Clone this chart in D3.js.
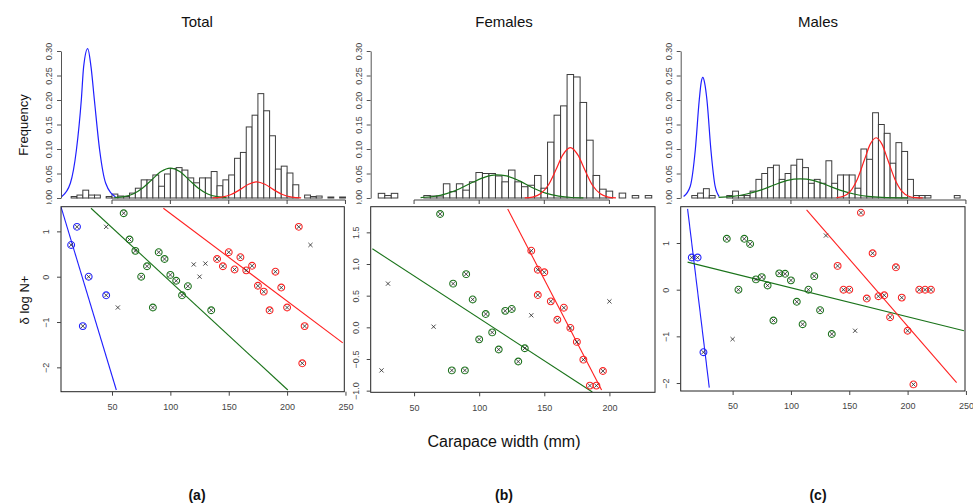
<!DOCTYPE html>
<html>
<head>
<meta charset="utf-8">
<script src="https://cdn.jsdelivr.net/npm/d3@7"></script>
<style>
  body { margin: 0; background: #fff; }
  svg { display: block; font-family: "Liberation Sans", Arial, sans-serif; }
  .tl { font-family: "Liberation Sans Narrow", "Liberation Sans", Arial, sans-serif; font-size: 9px; fill: #444; }
</style>
</head>
<body>
<svg id="chart" width="973" height="504"></svg>
<script>
const binWidth = 5;

const totalBinStart = 15;
const totalFreq = [0.003, 0.006, 0.016, 0.006, 0.006, 0, 0.003, 0.008, 0.004, 0.003,
  0.01, 0.02, 0.037, 0.037, 0.047, 0.024, 0.049, 0.06, 0.062, 0.057,
  0.041, 0.031, 0.041, 0.041, 0.054, 0.025, 0.037, 0.047, 0.081, 0.093,
  0.145, 0.169, 0.213, 0.178, 0.127, 0.059, 0.065, 0.051, 0.027, 0,
  0.006, 0.003, 0.004, 0, 0.002, 0, 0.002];

const femaleBinStart = 22.5;
const femaleFreq = [0.0095, 0.005, 0.0095, 0, 0, 0, 0, 0.005, 0.004, 0.004,
  0.029, 0.013, 0.029, 0.016, 0.033, 0.052, 0.05, 0.05, 0.045, 0.033,
  0.057, 0.033, 0.023, 0.026, 0.046, 0.02, 0.114, 0.169, 0.188, 0.252,
  0.247, 0.195, 0.118, 0.046, 0.018, 0.014, 0, 0.01, 0, 0.005, 0, 0.005];

const maleBinStart = 15;
const maleFreq = [0.005, 0.01, 0.019, 0.005, 0, 0, 0.005, 0.014, 0.005, 0.005,
  0.014, 0.038, 0.05, 0.062, 0.067, 0.038, 0.05, 0.067, 0.079, 0.062,
  0.03, 0.038, 0.03, 0.076, 0.03, 0.047, 0.047, 0.047, 0.02, 0.1,
  0.079, 0.174, 0.15, 0.132, 0.071, 0.113, 0.095, 0.038, 0.005, 0.005,
  0.005, 0, 0, 0, 0, 0.005];

// mixture component curves [width, freq]
const totalBlueCurve = [[7, 0.003], [14.3, 0.03], [19.5, 0.098], [23.7, 0.2], [25.7, 0.268], [29.2, 0.305],
  [32, 0.268], [34.9, 0.2], [39.4, 0.098], [44.6, 0.03], [53, 0.002]];
const totalGreenCurve = [[52, 0.0007], [60, 0.0027], [68, 0.0082], [76, 0.02], [84, 0.037], [92, 0.054], [100, 0.061],
  [108, 0.054], [116, 0.037], [124, 0.02], [132, 0.0082], [140, 0.0027], [148, 0.0007]];
const totalRedCurve = [[136, 0.0003], [144, 0.0019], [152, 0.007], [160, 0.0176], [167, 0.028], [174, 0.033],
  [181, 0.028], [188, 0.0176], [196, 0.007], [204, 0.0019], [212, 0.0003]];

const femaleGreenCurve = [[55, 0.0008], [65, 0.003], [75, 0.009], [85, 0.019], [95, 0.032], [105, 0.043], [113, 0.047],
  [121, 0.045], [131, 0.035], [141, 0.021], [151, 0.01], [161, 0.004], [171, 0.001], [180, 0.0002]];
const femaleRedCurve = [[135, 0.0001], [141, 0.0019], [147, 0.0085], [153, 0.026], [159, 0.058], [164, 0.087], [170, 0.103],
  [176, 0.087], [181, 0.058], [187, 0.026], [193, 0.0085], [199, 0.0019], [205, 0.0003]];

const maleBlueCurve = [[8, 0.003], [13.7, 0.024], [18, 0.098], [21.4, 0.2], [23, 0.235], [24.5, 0.246],
  [26, 0.235], [28, 0.2], [31.4, 0.098], [35, 0.024], [38.5, 0.003]];
const maleGreenCurve = [[38, 0.0011], [50, 0.0032], [62, 0.0082], [74, 0.016], [86, 0.027], [97, 0.036], [108, 0.039],
  [119, 0.036], [130, 0.027], [142, 0.016], [154, 0.0082], [166, 0.0032], [178, 0.0011], [200, 0.0001]];
const maleRedCurve = [[139, 0.0006], [145, 0.0035], [151, 0.014], [157, 0.039], [163, 0.078], [168, 0.11], [173, 0.123],
  [178, 0.11], [183, 0.078], [189, 0.039], [195, 0.014], [201, 0.0035], [207, 0.0006], [213, 0.0001]];

// scatter points [width, delta log N+]
const totalBluePts = [[15, 0.7], [20, 1.1], [30, 0], [25, -1.09], [45, -0.41]];
const totalGreenPts = [[60, 1.4], [65, 0.82], [70, 0.57], [80, 0.23], [75, 0], [90, 0.54], [95, 0.39], [100, 0.04],
  [105, -0.09], [115, -0.21], [110, -0.41], [85, -0.68], [135, -0.74]];
const totalRedPts = [[140, 0.39], [145, 0.23], [150, 0.54], [155, 0.16], [160, 0.43], [165, 0.14], [170, 0.24],
  [175, -0.2], [180, -0.33], [185, -0.74], [190, 0.11], [195, -0.24], [200, -0.68], [210, 1.1], [215, -1.09], [213, -1.91]];
const totalOtherPts = [[45, 1.1], [55, -0.68], [120, 0.27], [130, 0.29], [125, 0], [220, 0.7]];

const femaleGreenPts = [[70, 1.79], [80, 0.69], [90, 0.84], [95, 0.44], [105, 0.21], [120, 0.26], [125, 0.29],
  [110, -0.08], [100, -0.19], [115, -0.35], [135, -0.33], [130, -0.54], [79, -0.68], [89, -0.68]];
const femaleRedPts = [[140, 1.21], [145, 0.91], [150, 0.87], [145, 0.51], [155, 0.41], [165, 0.31], [160, 0.12],
  [170, -0.01], [175, -0.23], [180, -0.51], [195, -0.69], [185, -0.92], [190, -0.92]];
const femaleOtherPts = [[30, 0.69], [25, -0.68], [65, 0.01], [140, 0.19], [200, 0.41]];

const maleBluePts = [[15, 0.69], [20, 0.69], [25, -1.34]];
const maleGreenPts = [[45, 1.09], [60, 1.09], [65, 0.98], [55, 0], [70, 0.22], [75, 0.27], [80, 0.09], [90, 0.35],
  [95, 0.34], [100, 0.2], [115, 0], [120, 0.29], [105, -0.26], [125, -0.44], [85, -0.66], [110, -0.74], [135, -0.95]];
const maleRedPts = [[160, 1.65], [170, 0.78], [140, 0.51], [190, 0.48], [145, 0], [150, 0], [165, -0.19], [175, -0.14],
  [180, -0.12], [195, -0.17], [185, -0.59], [200, -0.88], [210, 0], [215, 0], [220, 0], [205, -2.03]];
const maleOtherPts = [[130, 1.16], [50, -1.06], [155, -0.88]];

// fitted lines, end points
const totalBlueFit = [[6.3, 1.54], [53.7, -2.5]];
const totalGreenFit = [[32, 1.51], [200.6, -2.5]];
const totalRedFit = [[94, 1.51], [247.7, -1.46]];
const femaleGreenFit = [[18, 1.24], [186.9, -1.02]];
const femaleRedFit = [[121.9, 1.87], [194, -0.99]];
const maleBlueFit = [[11.4, 1.73], [30, -2.1]];
const maleGreenFit = [[11.4, 0.59], [248.3, -0.88]];
const maleRedFit = [[113.4, 1.71], [242, -1.99]];

// ticks
const histYTicks = [0, 0.05, 0.1, 0.15, 0.2, 0.25, 0.3];
const totalXTicks = [50, 100, 150, 200, 250];
const femaleXTicks = [50, 100, 150, 200];
const maleXTicks = [50, 100, 150, 200, 250];
const totalYTicks = [-2, -1, 0, 1];
const femaleYTicks = [-1, -0.5, 0, 0.5, 1, 1.5];
const maleYTicks = [-2, -1, 0, 1];

const BLUE = '#1f1fff', GREEN = '#1a731a', RED = '#ff2020';

const svg = d3.select('#chart');

const columns = [
  { title: 'Total', tag: '(a)', cx: 197, left: 61, right: 344.3, xDomain: [6.3, 249],
    yDomain: [-2.537, 1.544], bottom: 391.7, binStart: totalBinStart, freq: totalFreq,
    curves: [[totalBlueCurve, BLUE], [totalGreenCurve, GREEN], [totalRedCurve, RED]],
    pts: [[totalBluePts, BLUE], [totalGreenPts, GREEN], [totalRedPts, RED]], other: totalOtherPts,
    fits: [[totalBlueFit, BLUE], [totalGreenFit, GREEN], [totalRedFit, RED]],
    xTicks: totalXTicks, yTicks: totalYTicks, yFmt: d3.format('d') },
  { title: 'Females', tag: '(b)', cx: 504, left: 370.7, right: 655, xDomain: [16.7, 235],
    yDomain: [-1.026, 1.905], bottom: 392.3, binStart: femaleBinStart, freq: femaleFreq,
    curves: [[femaleGreenCurve, GREEN], [femaleRedCurve, RED]],
    pts: [[femaleGreenPts, GREEN], [femaleRedPts, RED]], other: femaleOtherPts,
    fits: [[femaleGreenFit, GREEN], [femaleRedFit, RED]],
    xTicks: femaleXTicks, yTicks: femaleYTicks, yFmt: d3.format('.1f') },
  { title: 'Males', tag: '(c)', cx: 818, left: 680.7, right: 965, xDomain: [5.5, 249.2],
    yDomain: [-2.171, 1.778], bottom: 391, binStart: maleBinStart, freq: maleFreq,
    curves: [[maleBlueCurve, BLUE], [maleGreenCurve, GREEN], [maleRedCurve, RED]],
    pts: [[maleBluePts, BLUE], [maleGreenPts, GREEN], [maleRedPts, RED]], other: maleOtherPts,
    fits: [[maleBlueFit, BLUE], [maleGreenFit, GREEN], [maleRedFit, RED]],
    xTicks: maleXTicks, yTicks: maleYTicks, yFmt: d3.format('d') }
];

const cross = 'M-2.1,-2.1L2.1,2.1M-2.1,2.1L2.1,-2.1';

columns.forEach((c, ci) => {
  const x = d3.scaleLinear().domain(c.xDomain).range([c.left, c.right]);
  const yh = d3.scaleLinear().domain([0, 0.3]).range([198, 51]);
  const ys = d3.scaleLinear().domain(c.yDomain).range([c.bottom, 206.7]);
  const g = svg.append('g');

  // title
  g.append('text').attr('x', c.cx).attr('y', 27).attr('text-anchor', 'middle')
    .attr('font-size', 15).attr('fill', '#111').text(c.title);

  // histogram
  g.append('g').selectAll('rect').data(c.freq).join('rect')
    .attr('x', (d, i) => x(c.binStart + i * binWidth))
    .attr('width', (d, i) => x(c.binStart + (i + 1) * binWidth) - x(c.binStart + i * binWidth))
    .attr('y', d => yh(d))
    .attr('height', d => yh(0) - yh(d))
    .attr('fill', '#fff').attr('stroke', '#3c3c3c').attr('stroke-width', 1);

  const curve = d3.line().x(d => x(d[0])).y(d => yh(d[1])).curve(d3.curveMonotoneX);
  c.curves.forEach(([pts, col]) => {
    g.append('path').datum(pts).attr('d', curve)
      .attr('fill', 'none').attr('stroke', col).attr('stroke-width', 1.2);
  });

  // hist y axis
  const hy = g.append('g').attr('transform', `translate(${c.left},0)`)
    .call(d3.axisLeft(yh).tickValues(histYTicks).tickSize(4).tickSizeOuter(0).tickFormat(d3.format('.2f')));
  hy.select('.domain').attr('stroke', '#555');
  hy.selectAll('.tick line').attr('stroke', '#555');
  hy.selectAll('.tick text').attr('class', 'tl').attr('x', null).attr('dy', null)
    .attr('transform', 'translate(-9,0) rotate(-90)').attr('text-anchor', 'middle');

  // hist x axis (labels hidden under the scatter panel)
  g.append('line').attr('x1', x(c.xTicks[0])).attr('x2', x(c.xTicks[c.xTicks.length - 1]))
    .attr('y1', 200).attr('y2', 200).attr('stroke', '#444');
  g.append('g').selectAll('line').data(c.xTicks).join('line')
    .attr('x1', d => x(d)).attr('x2', d => x(d)).attr('y1', 200).attr('y2', 204).attr('stroke', '#444');

  // lower panel sits over the bottom of the "0.00" label
  g.append('rect').attr('x', c.left - 22).attr('y', 204).attr('width', 22)
    .attr('height', 8).attr('fill', '#fff');

  // scatter panel
  const clipId = 'clip' + ci;
  g.append('clipPath').attr('id', clipId).append('rect')
    .attr('x', c.left).attr('y', 206.7).attr('width', c.right - c.left).attr('height', c.bottom - 206.7);

  const fitLine = d3.line().x(d => x(d[0])).y(d => ys(d[1]));
  c.fits.forEach(([pts, col]) => {
    g.append('path').datum(pts).attr('d', fitLine).attr('clip-path', `url(#${clipId})`)
      .attr('fill', 'none').attr('stroke', col).attr('stroke-width', 1.1);
  });

  c.pts.forEach(([pts, col]) => {
    const pg = g.append('g').selectAll('g').data(pts).join('g')
      .attr('transform', d => `translate(${x(d[0])},${ys(d[1])})`);
    pg.append('circle').attr('r', 3.4).attr('fill', 'none').attr('stroke', col).attr('stroke-width', 1.1);
    pg.append('path').attr('d', cross).attr('stroke', '#222').attr('stroke-width', 0.8);
  });
  g.append('g').selectAll('path').data(c.other).join('path')
    .attr('transform', d => `translate(${x(d[0])},${ys(d[1])})`)
    .attr('d', cross).attr('stroke', '#222').attr('stroke-width', 0.8);

  g.append('rect').attr('x', c.left).attr('y', 206.7).attr('width', c.right - c.left)
    .attr('height', c.bottom - 206.7).attr('fill', 'none').attr('stroke', '#222').attr('stroke-width', 1);

  const ax = g.append('g').attr('transform', `translate(0,${c.bottom})`)
    .call(d3.axisBottom(x).tickValues(c.xTicks).tickSize(4).tickPadding(8));
  ax.select('.domain').remove();
  ax.selectAll('.tick line').attr('stroke', '#444');
  ax.selectAll('.tick text').attr('class', 'tl');

  const ay = g.append('g').attr('transform', `translate(${c.left},0)`)
    .call(d3.axisLeft(ys).tickValues(c.yTicks).tickSize(4).tickFormat(c.yFmt));
  ay.select('.domain').remove();
  ay.selectAll('.tick line').attr('stroke', '#444');
  ay.selectAll('.tick text').attr('class', 'tl').attr('x', null).attr('dy', null)
    .attr('transform', 'translate(-12,0) rotate(-90)').attr('text-anchor', 'middle');

  g.append('text').attr('x', c.cx).attr('y', 500).attr('text-anchor', 'middle')
    .attr('font-size', 14).attr('font-weight', 'bold').attr('fill', '#111').text(c.tag);
});

// shared labels
svg.append('text').attr('transform', 'translate(28,125) rotate(-90)').attr('text-anchor', 'middle')
  .attr('font-size', 13).attr('fill', '#111').text('Frequency');
svg.append('text').attr('transform', 'translate(29,300) rotate(-90)').attr('text-anchor', 'middle')
  .attr('font-size', 13).attr('fill', '#111').text('δ log N+');
svg.append('text').attr('x', 504).attr('y', 447).attr('text-anchor', 'middle')
  .attr('font-size', 16).attr('fill', '#111').text('Carapace width (mm)');
</script>
</body>
</html>
